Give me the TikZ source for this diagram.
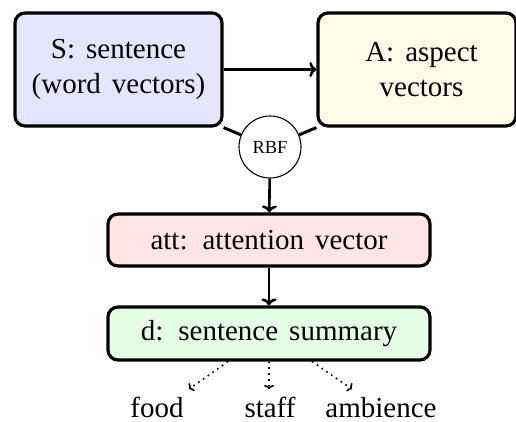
\documentclass[tikz,border=0pt]{standalone}
\usepackage{fontspec}
\setmainfont{Liberation Serif}
\usetikzlibrary{backgrounds,arrows.meta}
\definecolor{sfill}{RGB}{229,229,255}
\definecolor{afill}{RGB}{255,252,232}
\definecolor{attfill}{RGB}{255,229,229}
\definecolor{dfill}{RGB}{229,255,229}
\newcommand{\bigtext}{\fontsize{29}{35}\selectfont\spaceskip=11pt\xspaceskip=15pt\relax}
\begin{document}
\begin{tikzpicture}[x=1pt,y=-1pt,
  box/.style={draw, line width=3.2pt, rounded corners=10pt, align=center, inner sep=0pt,
    font=\bigtext},
  conn/.style={line width=2.6pt, -{To[length=7pt,width=15pt]}},
  joinline/.style={line width=3pt},
  dotarrow/.style={line width=1.6pt, dash pattern=on 1.6pt off 4.2pt, -{To[length=4pt,width=10pt]}},
  lbl/.style={inner sep=0pt, font=\bigtext}]
\useasboundingbox (0,0) rectangle (516,421);
\node[box, fill=sfill, minimum width=207pt, minimum height=113pt] (S) at (118.5,69.5) {S: sentence\\(word vectors)};
\node[box, fill=afill, minimum width=198pt, minimum height=113pt] (A) at (417,69.5) {\hspace*{9pt}A: aspect\\\hspace*{9pt}vectors};
\node[draw, circle, line width=1.1pt, minimum size=62pt, inner sep=0pt, fill=white,
  font=\fontsize{18.5}{18.5}\selectfont] (rbf) at (270,147) {RBF};
\node[box, fill=attfill, minimum width=322pt, minimum height=52pt] (att) at (269,240) {att: attention vector};
\node[box, fill=dfill, minimum width=322pt, minimum height=53pt] (d) at (269,333.5) {d: sentence summary};
\node[lbl, anchor=base] (food) at (157,417) {food};
\node[lbl, anchor=base] (staff) at (270,417) {staff};
\node[lbl, anchor=base] (amb) at (381,417) {ambience};
\coordinate (e1) at (189,389);
\coordinate (e2) at (269,389);
\coordinate (e3) at (352,389);
\begin{scope}[on background layer]
\draw[joinline] (S.south east) -- (rbf);
\draw[joinline] (A.south west) -- (rbf);
\end{scope}
\draw[conn] (S.east) -- (A.west);
\draw[conn] (rbf) -- (att);
\draw[conn] (att) -- (d);
\draw[dotarrow] ([xshift=-41pt]d.south) -- (e1);
\draw[dotarrow] (d.south) -- (e2);
\draw[dotarrow] ([xshift=43pt]d.south) -- (e3);
\end{tikzpicture}
\end{document}
